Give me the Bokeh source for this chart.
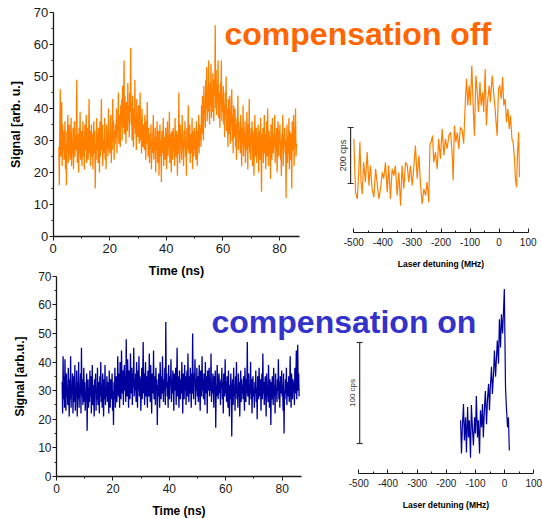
import numpy as np
from math import pi
from bokeh.plotting import figure
from bokeh.models import (Range1d, LinearAxis, FixedTicker, Label, Whisker,
                          TeeHead, ColumnDataSource)
from bokeh.embed import file_html
from bokeh.resources import INLINE

# ---------------- data ----------------
# top-left: compensation off, signal vs time (ns)
t_off_start, t_off_end = 2.0, 86.0
signal_off = [
    28, 16, 34, 46, 25, 31, 42, 22, 35, 27, 33, 24,
    30, 36, 21, 29, 16, 33, 26, 38, 23, 31, 35, 27,
    24, 32, 37, 22, 30, 26, 34, 21, 29, 36, 25, 31,
    27, 35, 49, 23, 32, 28, 20, 34, 26, 39, 24, 30,
    33, 22, 28, 36, 25, 31, 21, 35, 27, 30, 38, 23,
    29, 34, 24, 31, 43, 26, 33, 22, 28, 35, 25, 32,
    21, 30, 36, 26, 33, 15, 29, 24, 37, 27, 32, 23,
    34, 28, 20, 36, 25, 31, 43, 27, 35, 22, 30, 26,
    32, 37, 24, 29, 21, 35, 28, 33, 25, 40, 27, 31,
    26, 34, 38, 23, 32, 27, 43, 30, 36, 24, 33, 29,
    35, 31, 40, 26, 37, 33, 45, 29, 38, 34, 28, 41,
    36, 43, 30, 47, 34, 39, 55, 32, 44, 37, 29, 42,
    38, 33, 48, 36, 41, 31, 45, 39, 59, 35, 42, 30,
    44, 37, 28, 40, 34, 49, 32, 38, 27, 43, 35, 31,
    36, 41, 29, 34, 45, 30, 37, 26, 40, 33, 28, 35,
    31, 27, 38, 33, 24, 36, 29, 42, 31, 25, 34, 28,
    23, 32, 28, 35, 21, 30, 26, 33, 38, 24, 29, 27,
    34, 20, 31, 27, 36, 23, 29, 33, 19, 28, 35, 25,
    30, 17, 33, 26, 29, 37, 22, 31, 28, 24, 34, 27,
    21, 31, 36, 25, 30, 28, 39, 23, 32, 26, 20, 33,
    29, 24, 34, 27, 31, 22, 37, 28, 25, 33, 30, 19,
    32, 26, 45, 28, 23, 35, 29, 31, 24, 38, 27, 30,
    22, 33, 28, 36, 25, 30, 19, 34, 27, 31, 41, 26,
    29, 35, 23, 32, 28, 26, 37, 21, 30, 33, 25, 34,
    27, 31, 24, 36, 29, 22, 33, 28, 38, 26, 35, 30,
    34, 28, 41, 32, 44, 36, 30, 47, 38, 42, 34, 49,
    40, 53, 36, 45, 39, 55, 42, 35, 48, 41, 54, 37,
    46, 39, 51, 43, 36, 49, 44, 66, 40, 52, 38, 47,
    42, 55, 37, 45, 40, 34, 48, 41, 55, 36, 44, 39,
    47, 35, 41, 31, 45, 38, 50, 33, 40, 36, 28, 43,
    37, 32, 44, 29, 39, 35, 46, 30, 38, 26, 41, 34,
    31, 40, 28, 35, 24, 37, 32, 44, 27, 36, 30, 33,
    26, 38, 31, 22, 34, 29, 41, 25, 33, 28, 36, 23,
    32, 27, 39, 30, 21, 35, 28, 43, 26, 31, 24, 34,
    29, 36, 22, 33, 27, 19, 31, 38, 25, 30, 34, 23,
    31, 26, 35, 20, 29, 33, 24, 37, 28, 14, 32, 27,
    34, 23, 30, 38, 26, 32, 21, 29, 36, 25, 40, 28,
    22, 33, 27, 31, 18, 35, 29, 24, 37, 30, 26, 32,
    28, 38, 23, 31, 27, 34, 20, 30, 36, 25, 33, 29,
    35, 24, 30, 19, 32, 27, 38, 22, 31, 29, 34, 26,
    30, 12, 28, 35, 23, 31, 26, 37, 21, 33, 29, 24,
    32, 15, 36, 27, 30, 38, 22, 34, 28, 40, 25, 29,
]

# bottom-left: compensation on, signal vs time (ns)
t_on_start, t_on_end = 2.0, 86.0
signal_on = [
    33, 22, 42, 27, 35, 24, 41, 29, 23, 36, 28, 31,
    25, 38, 30, 21, 34, 27, 42, 24, 32, 29, 36, 22,
    30, 35, 26, 39, 23, 31, 28, 37, 21, 33, 27, 40,
    24, 32, 29, 36, 22, 45, 28, 34, 25, 31, 38, 26,
    33, 23, 30, 27, 36, 16, 29, 34, 24, 31, 26, 37,
    28, 35, 22, 30, 39, 25, 32, 27, 21, 34, 29, 36,
    23, 31, 27, 38, 25, 33, 29, 22, 35, 28, 40, 26,
    32, 24, 36, 29, 21, 34, 27, 39, 25, 31, 28, 35,
    26, 33, 30, 22, 37, 28, 24, 34, 31, 27, 36, 23,
    30, 18, 33, 27, 38, 24, 31, 35, 26, 29, 42, 32,
    28, 36, 24, 40, 31, 27, 44, 33, 29, 37, 25, 34,
    39, 30, 35, 26, 48, 32, 28, 41, 34, 24, 37, 31,
    27, 43, 33, 29, 38, 25, 36, 31, 45, 28, 34, 30,
    36, 26, 40, 32, 24, 37, 30, 42, 28, 35, 33, 23,
    31, 38, 27, 34, 47, 29, 36, 25, 33, 40, 28, 35,
    30, 24, 37, 32, 28, 43, 34, 26, 39, 31, 22, 36,
    33, 29, 44, 27, 35, 31, 25, 38, 30, 34, 18, 32,
    28, 36, 31, 24, 40, 33, 27, 35, 29, 42, 32, 26,
    34, 30, 38, 25, 54, 31, 36, 28, 33, 24, 39, 30,
    27, 35, 32, 41, 26, 34, 29, 37, 31, 23, 36, 33,
    30, 38, 25, 33, 45, 28, 35, 30, 24, 37, 32, 27,
    34, 29, 40, 31, 22, 36, 33, 27, 39, 30, 35, 25,
    32, 37, 28, 43, 31, 26, 35, 29, 38, 33, 24, 36,
    29, 50, 31, 27, 36, 33, 41, 25, 34, 30, 38, 28,
    35, 26, 32, 39, 29, 23, 37, 31, 28, 42, 30, 34,
    27, 36, 31, 25, 40, 33, 29, 35, 22, 37, 30, 32,
    38, 28, 34, 30, 43, 26, 33, 29, 36, 31, 24, 35,
    30, 37, 17, 32, 28, 39, 34, 27, 31, 36, 29, 33,
    25, 34, 31, 38, 27, 33, 22, 36, 30, 28, 41, 29,
    33, 26, 35, 30, 24, 37, 29, 21, 32, 27, 36, 31,
    14, 30, 34, 25, 38, 28, 32, 23, 35, 29, 40, 27,
    31, 24, 36, 28, 33, 21, 30, 37, 26, 34, 29, 32,
    27, 35, 30, 23, 38, 31, 26, 34, 29, 47, 28, 33,
    36, 25, 32, 29, 40, 27, 34, 22, 31, 35, 28, 30,
    24, 33, 29, 37, 26, 31, 20, 35, 30, 27, 38, 32,
    28, 34, 23, 30, 36, 27, 43, 29, 33, 25, 31, 35,
    30, 21, 36, 28, 32, 26, 39, 31, 24, 34, 29, 18,
    33, 27, 35, 30, 25, 38, 28, 32, 22, 36, 29, 31,
    26, 34, 30, 41, 27, 33, 24, 35, 29, 31, 37, 28,
    32, 23, 36, 15, 30, 27, 34, 29, 38, 25, 33, 30,
    28, 35, 26, 31, 42, 29, 24, 36, 32, 27, 34, 30,
    33, 25, 38, 29, 31, 44, 27, 35, 46, 30, 36, 28,
]

# top-right: compensation off, fluorescence vs laser detuning (MHz, cps)
detuning_off = [
    -500, -494, -488, -483, -479, -475, -471, -466, -460, -454,
    -448, -443, -437, -431, -425, -420, -414, -408, -402, -397,
    -391, -385, -380, -374, -368, -362, -357, -351, -345, -339,
    -334, -328, -322, -316, -311, -305, -299, -294, -288, -282,
    -276, -271, -265, -259, -253, -248, -242, -238, -234, -229,
    -225, -219, -213, -208, -202, -196, -190, -185, -179, -173,
    -167, -162, -158, -154, -149, -144, -139, -133, -127, -122,
    -116, -112, -108, -103, -99, -94, -89, -85, -80, -76,
    -71, -66, -62, -57, -53, -48, -44, -39, -34, -30,
    -24, -18, -13, -7, -2, 2, 7, 12, 16, 21,
    25, 30, 35, 39, 44, 48, 53, 56, 60, 63,
    67, 70,
]
counts_off = [
    335, 144, 120, 215, 323, 180, 138, 251, 180, 287,
    168, 239, 156, 126, 227, 180, 120, 156, 215, 192,
    251, 144, 239, 120, 227, 203, 239, 132, 215, 96,
    239, 156, 251, 239, 180, 239, 168, 227, 311, 192,
    275, 180, 102, 156, 132, 180, 108, 311, 323, 346,
    251, 287, 227, 334, 263, 370, 275, 334, 299, 346,
    358, 287, 186, 382, 323, 358, 299, 376, 364, 317,
    477, 549, 454, 525, 454, 596, 442, 346, 561, 513,
    430, 537, 454, 501, 430, 584, 382, 477, 525, 465,
    561, 489, 430, 346, 513, 525, 477, 555, 454, 477,
    394, 442, 370, 418, 334, 323, 263, 192, 162, 275,
    358, 198,
]

# bottom-right: compensation on, fluorescence vs laser detuning (MHz, cps)
detuning_on = [
    -151, -148, -145, -141, -138, -134, -131, -127, -124, -121,
    -117, -114, -110, -107, -103, -100, -97, -93, -90, -86,
    -83, -79, -76, -73, -69, -66, -62, -59, -55, -52,
    -49, -45, -42, -38, -35, -31, -28, -25, -21, -18,
    -14, -11, -7, -4, -1, 3, 6, 10, 13, 16,
]
counts_on = [
    53, 20, 46, 69, 33, 56, 21, 66, 36, 53,
    16, 68, 43, 28, 56, 40, 77, 36, 53, 20,
    63, 46, 69, 36, 66, 82, 49, 73, 89, 63,
    86, 106, 79, 99, 122, 96, 115, 132, 109, 153,
    125, 158, 139, 160, 183, 86, 66, 46, 56, 23,
]

scale_bar_off = 200   # cps
scale_bar_on = 100    # cps

x_ticks_time = [0, 20, 40, 60, 80]
x_minor_time = [10, 30, 50, 70]
y_ticks_sig = [0, 10, 20, 30, 40, 50, 60, 70]
y_minor_sig = [5, 15, 25, 35, 45, 55, 65]
x_ticks_det = [-500, -400, -300, -200, -100, 0, 100]
x_minor_det = [-450, -350, -250, -150, -50, 50]
x_labels_det = {t: str(t) for t in x_ticks_det}   # plain hyphen minus signs

ORANGE_LINE = "#FF8000"
ORANGE_TITLE = "#FF6600"
BLUE_LINE = "#00009C"
BLUE_TITLE = "#3333CC"
INK = "#1a1a1a"
FONT = "Liberation Sans"

# ---------------- canvas ----------------
W, H = 542, 519
p = figure(width=W, height=H, x_range=Range1d(0, W), y_range=Range1d(H, 0),
           x_axis_type=None, y_axis_type=None, toolbar_location=None,
           output_backend="svg", min_border=0, title=None)
p.outline_line_color = None
p.background_fill_color = "white"


def xr(v0, p0, v1, p1):
    s = (p1 - p0) / (v1 - v0)
    return Range1d(v0 - p0 / s, v0 + (W - p0) / s)


def yr(v0, p0, v1, p1):
    s = (p0 - p1) / (v1 - v0)
    return Range1d(v0 - (H - p0) / s, v0 + p0 / s)


p.extra_x_ranges = {
    "tlx": xr(0, 52.7, 80, 279.0),
    "trx": xr(-500, 353.3, 100, 527.7),
    "blx": xr(0, 56.0, 80, 281.7),
    "brx": xr(-500, 358.3, 100, 533.3),
}
p.extra_y_ranges = {
    "tly": yr(0, 236.0, 70, 12.0),
    "try": yr(0, 232.0, 200, 176.0),
    "bly": yr(0, 476.0, 70, 275.7),
    "bry": yr(0, 473.3, 100, 372.3),
}


def left_panel(xn, yn, tick_px, lab_px, ylabel, xbounds):
    ax = LinearAxis(x_range_name=xn, y_range_name=yn, fixed_location=0,
                    bounds=xbounds,
                    ticker=FixedTicker(ticks=x_ticks_time, minor_ticks=x_minor_time),
                    axis_label="Time (ns)")
    ay = LinearAxis(x_range_name=xn, y_range_name=yn, fixed_location=0,
                    bounds=(0, 70),
                    ticker=FixedTicker(ticks=y_ticks_sig, minor_ticks=y_minor_sig),
                    axis_label=ylabel)
    for a in (ax, ay):
        a.axis_line_color = INK
        a.axis_line_width = 1.3
        a.major_tick_line_color = INK
        a.minor_tick_line_color = INK
        a.major_tick_in = 0
        a.major_tick_out = 4
        a.minor_tick_in = 0
        a.minor_tick_out = 2
        a.major_label_text_font = FONT
        a.major_label_text_font_size = tick_px
        a.major_label_text_color = INK
        a.axis_label_text_font = FONT
        a.axis_label_text_font_size = lab_px
        a.axis_label_text_font_style = "bold"
        a.axis_label_text_color = "black"
    ax.major_label_standoff = 3
    ax.axis_label_standoff = 8
    ay.major_label_standoff = 1
    ay.axis_label_standoff = 8
    p.add_layout(ax, "below")
    p.add_layout(ay, "left")


def right_panel(xn, yn):
    ax = LinearAxis(x_range_name=xn, y_range_name=yn, fixed_location=0,
                    bounds=(-500, 100),
                    ticker=FixedTicker(ticks=x_ticks_det, minor_ticks=x_minor_det),
                    axis_label="Laser detuning (MHz)")
    ax.major_label_overrides = x_labels_det
    ax.axis_line_color = INK
    ax.axis_line_width = 1.2
    ax.major_tick_line_color = INK
    ax.minor_tick_line_color = INK
    ax.major_tick_in = 4
    ax.major_tick_out = 0
    ax.minor_tick_in = 2
    ax.minor_tick_out = 0
    ax.major_label_text_font = FONT
    ax.major_label_text_font_size = "10px"
    ax.major_label_text_color = INK
    ax.major_label_standoff = 5
    ax.axis_label_text_font = FONT
    ax.axis_label_text_font_size = "8.5px"
    ax.axis_label_text_font_style = "bold"
    ax.axis_label_text_color = "black"
    ax.axis_label_standoff = 10
    p.add_layout(ax, "below")


# top-left
t_off = np.linspace(t_off_start, t_off_end, len(signal_off))
p.line(t_off, signal_off, x_range_name="tlx", y_range_name="tly",
       line_color=ORANGE_LINE, line_width=1.3)
left_panel("tlx", "tly", "13px", "12.5px", "Signal [arb. u.]", (0, 87))

# bottom-left
t_on = np.linspace(t_on_start, t_on_end, len(signal_on))
p.line(t_on, signal_on, x_range_name="blx", y_range_name="bly",
       line_color=BLUE_LINE, line_width=1.3)
left_panel("blx", "bly", "12px", "12px", "Signal [arb.u.]", (0, 87))

# top-right
p.line(detuning_off, counts_off, x_range_name="trx", y_range_name="try",
       line_color=ORANGE_LINE, line_width=1.2)
right_panel("trx", "try")

# bottom-right
p.line(detuning_on, counts_on, x_range_name="brx", y_range_name="bry",
       line_color=BLUE_LINE, line_width=1.2)
right_panel("brx", "bry")

# scale bars
bar_off_x, bar_off_lo = -511, 175
bar_on_x, bar_on_lo = -497, 30
for xn, yn, bx, lo, size, fs in (("trx", "try", bar_off_x, bar_off_lo, scale_bar_off, "9px"),
                                  ("brx", "bry", bar_on_x, bar_on_lo, scale_bar_on, "8px")):
    src = ColumnDataSource(dict(base=[bx], lower=[lo], upper=[lo + size]))
    wk = Whisker(source=src, base="base", lower="lower", upper="upper",
                 dimension="height", line_color="#333333", line_width=1.2,
                 x_range_name=xn, y_range_name=yn,
                 upper_head=TeeHead(size=6, line_color="#333333", line_width=1.2),
                 lower_head=TeeHead(size=6, line_color="#333333", line_width=1.2))
    p.add_layout(wk)
    p.add_layout(Label(x=bx, y=lo + size / 2, x_range_name=xn, y_range_name=yn,
                       text=f"{size} cps", angle=pi / 2, x_offset=-3,
                       text_align="center", text_baseline="bottom",
                       text_font=FONT, text_font_size=fs,
                       text_color="#333333"))

# titles
p.add_layout(Label(x=224, y=33, text="compensation off", text_font=FONT,
                   text_font_size="32px", text_font_style="bold",
                   text_color=ORANGE_TITLE, text_baseline="alphabetic"))
p.add_layout(Label(x=211, y=321.5, text="compensation on", text_font=FONT,
                   text_font_size="32px", text_font_style="bold",
                   text_color=BLUE_TITLE, text_baseline="alphabetic"))

open("out.html", "w").write(file_html(p, INLINE))
